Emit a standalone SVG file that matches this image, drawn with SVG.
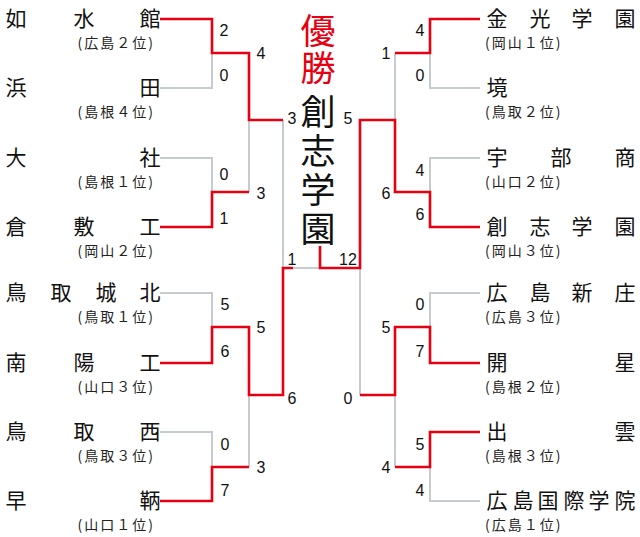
<svg xmlns="http://www.w3.org/2000/svg" width="640" height="537" viewBox="0 0 640 537">
<style>
.g{fill:none;stroke:#c5cbce;stroke-width:2}
.r{fill:none;stroke:#e60012;stroke-width:2.6}
.n{font-family:"Noto Sans CJK JP","Noto Sans",sans-serif;font-size:21px;fill:#111;text-anchor:middle}
.s{font-family:"Noto Sans CJK JP","Noto Sans",sans-serif;font-size:14px;fill:#222;letter-spacing:2px}
.c{font-family:"Liberation Sans",Arial,sans-serif;font-size:16px;fill:#111;text-anchor:middle}
.b{font-family:"Noto Sans CJK JP",sans-serif;font-size:35px;text-anchor:middle}
</style>
<rect width="640" height="537" fill="#fff"/>
<g id="connectors">
<path class="g" d="M160 19H212V88H160M212 53H249M160 158H212V227H160M212 192H249M160 293H212V363H160M212 327H249M160 432H212V501H160M212 467H249M249 53V192M249 327V467M249 120H283M249 395H283M283 120V395M283 268H360M480 19H430V88H480M430 53H395M480 158H430V227H480M430 192H395M480 293H430V363H480M430 327H395M480 432H430V501H480M430 467H395M395 53V192M395 327V467M395 120H360M395 395H360M360 120V395"/>
<path class="r" d="M160 19H212V53H249V120H283M160 227H212V192H249M160 363H212V327H249V395H283V268H293M160 501H212V467H249M320 246V268H360V120H395V192H430V227H480M480 19H430V53H395M480 363H430V327H395V395H360M480 432H430V467H395"/>
</g>
<g id="champion">
<text class="b" x="318" y="44" fill="#e60012">優</text>
<text class="b" x="318" y="81" fill="#e60012">勝</text>
<text class="b" x="318" y="125" fill="#111">創</text>
<text class="b" x="318" y="164" fill="#111">志</text>
<text class="b" x="318" y="203" fill="#111">学</text>
<text class="b" x="318" y="242" fill="#111">園</text>
</g>
<g id="left-teams">
<g id="t1"><text class="n" y="26"><tspan x="16">如</tspan><tspan x="84">水</tspan><tspan x="150">館</tspan></text><text class="s" x="155" y="48" text-anchor="end">(広島２位)</text></g>
<g id="t2"><text class="n" y="95"><tspan x="16">浜</tspan><tspan x="150">田</tspan></text><text class="s" x="155" y="117" text-anchor="end">(島根４位)</text></g>
<g id="t3"><text class="n" y="165"><tspan x="16">大</tspan><tspan x="150">社</tspan></text><text class="s" x="155" y="187" text-anchor="end">(島根１位)</text></g>
<g id="t4"><text class="n" y="234"><tspan x="16">倉</tspan><tspan x="84">敷</tspan><tspan x="150">工</tspan></text><text class="s" x="155" y="256" text-anchor="end">(岡山２位)</text></g>
<g id="t5"><text class="n" y="300"><tspan x="16">鳥</tspan><tspan x="61">取</tspan><tspan x="106">城</tspan><tspan x="150">北</tspan></text><text class="s" x="155" y="322" text-anchor="end">(鳥取１位)</text></g>
<g id="t6"><text class="n" y="370"><tspan x="16">南</tspan><tspan x="84">陽</tspan><tspan x="150">工</tspan></text><text class="s" x="155" y="392" text-anchor="end">(山口３位)</text></g>
<g id="t7"><text class="n" y="439"><tspan x="16">鳥</tspan><tspan x="84">取</tspan><tspan x="150">西</tspan></text><text class="s" x="155" y="461" text-anchor="end">(鳥取３位)</text></g>
<g id="t8"><text class="n" y="508"><tspan x="16">早</tspan><tspan x="150">鞆</tspan></text><text class="s" x="155" y="530" text-anchor="end">(山口１位)</text></g>
</g>
<g id="right-teams">
<g id="t9"><text class="n" y="26"><tspan x="497">金</tspan><tspan x="540">光</tspan><tspan x="582">学</tspan><tspan x="625">園</tspan></text><text class="s" x="485" y="48">(岡山１位)</text></g>
<g id="t10"><text class="n" y="95"><tspan x="497">境</tspan></text><text class="s" x="485" y="117">(鳥取２位)</text></g>
<g id="t11"><text class="n" y="165"><tspan x="497">宇</tspan><tspan x="561">部</tspan><tspan x="625">商</tspan></text><text class="s" x="485" y="187">(山口２位)</text></g>
<g id="t12"><text class="n" y="234"><tspan x="497">創</tspan><tspan x="540">志</tspan><tspan x="582">学</tspan><tspan x="625">園</tspan></text><text class="s" x="485" y="256">(岡山３位)</text></g>
<g id="t13"><text class="n" y="300"><tspan x="497">広</tspan><tspan x="540">島</tspan><tspan x="582">新</tspan><tspan x="625">庄</tspan></text><text class="s" x="485" y="322">(広島３位)</text></g>
<g id="t14"><text class="n" y="370"><tspan x="497">開</tspan><tspan x="625">星</tspan></text><text class="s" x="485" y="392">(島根２位)</text></g>
<g id="t15"><text class="n" y="439"><tspan x="497">出</tspan><tspan x="625">雲</tspan></text><text class="s" x="485" y="461">(島根３位)</text></g>
<g id="t16"><text class="n" y="508"><tspan x="497">広</tspan><tspan x="523">島</tspan><tspan x="548">国</tspan><tspan x="574">際</tspan><tspan x="599">学</tspan><tspan x="625">院</tspan></text><text class="s" x="485" y="530">(広島１位)</text></g>
</g>
<g id="scores">
<text class="c" x="224" y="36">2</text><text class="c" x="224" y="81">0</text>
<text class="c" x="224" y="180">0</text><text class="c" x="224" y="224">1</text>
<text class="c" x="225" y="310">5</text><text class="c" x="225" y="357">6</text>
<text class="c" x="225" y="450">0</text><text class="c" x="225" y="496">7</text>
<text class="c" x="261" y="59">4</text><text class="c" x="261" y="199">3</text>
<text class="c" x="261" y="333">5</text><text class="c" x="261" y="473">3</text>
<text class="c" x="292" y="124">3</text><text class="c" x="292" y="404">6</text>
<text class="c" x="292" y="265">1</text><text class="c" x="348" y="265">12</text>
<text class="c" x="348" y="124">5</text><text class="c" x="348" y="404">0</text>
<text class="c" x="386" y="59">1</text><text class="c" x="386" y="199">6</text>
<text class="c" x="386" y="333">5</text><text class="c" x="386" y="473">4</text>
<text class="c" x="420" y="36">4</text><text class="c" x="420" y="81">0</text>
<text class="c" x="420" y="176">4</text><text class="c" x="420" y="220">6</text>
<text class="c" x="420" y="310">0</text><text class="c" x="420" y="357">7</text>
<text class="c" x="420" y="450">5</text><text class="c" x="420" y="496">4</text>
</g>
</svg>
